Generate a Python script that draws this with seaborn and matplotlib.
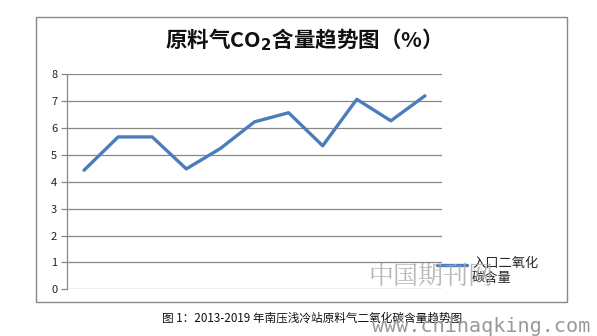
import matplotlib
matplotlib.use("Agg")
import matplotlib.pyplot as plt
import seaborn as sns
import pandas as pd
from matplotlib.patches import Rectangle

# Data
categories = [str(i) for i in range(1, 12)]
co2_values = [4.43, 5.67, 5.67, 4.48, 5.24, 6.23, 6.57, 5.34, 7.07, 6.27, 7.20]
series_name = "入口二氧化\n碳含量"
y_ticks = [0, 1, 2, 3, 4, 5, 6, 7, 8]
title_text = r"原料气CO$_\mathbf{2}$含量趋势图（%）"
caption_text = "图 1：2013-2019 年南压浅冷站原料气二氧化碳含量趋势图"

df = pd.DataFrame({"cat": categories, "val": co2_values, "series": series_name})

sns.set_theme(style="white")
plt.rcParams["font.family"] = ["Noto Sans CJK SC", "DejaVu Sans"]

fig = plt.figure(figsize=(5.97, 3.36), dpi=100)
ax = fig.add_axes([67 / 597, 1 - 289.3 / 336, (442 - 67) / 597, (289.3 - 74.3) / 336])

sns.lineplot(data=df, x="cat", y="val", hue="series", palette=["#4a7ebb"],
             linewidth=2.4, sort=False, ax=ax, legend=True)

ax.set_xlim(-0.5, 10.5)
ax.set_ylim(0, 8)
ax.set_yticks(y_ticks)
ax.set_yticklabels([str(t) for t in y_ticks], fontsize=8, color="#222222")
ax.set_xticks([])
ax.set_xlabel("")
ax.set_ylabel("")
ax.grid(axis="y", color="#888888", linewidth=0.9)
ax.set_axisbelow(True)
for s in ["top", "right", "bottom"]:
    ax.spines[s].set_visible(False)
ax.spines["left"].set_color("#888888")
ax.spines["left"].set_linewidth(0.9)
ax.tick_params(axis="y", which="both", left=True, length=4, width=0.9,
               color="#888888", pad=3)

leg = ax.legend(loc="upper left", bbox_to_anchor=(437 / 597, 1 - 254 / 336),
                bbox_transform=fig.transFigure, frameon=False, fontsize=9.5,
                handlelength=2.3, handleheight=4.0, handletextpad=0.35,
                borderpad=0, borderaxespad=0)
for t in leg.get_texts():
    t.set_linespacing(1.2)

# Outer chart border
fig.patches.append(Rectangle((36 / 597, 1 - 302 / 336), 531 / 597, 285 / 336,
                             transform=fig.transFigure, fill=False,
                             edgecolor="#888888", linewidth=1.0))

fig.text(298 / 597, 1 - 40 / 336, title_text, ha="center", va="center",
         fontsize=15.5, fontweight="bold", color="#111111")

fig.text(312 / 597, 1 - 318 / 336, caption_text, ha="center", va="center",
         fontsize=8.4, color="#111111")

# Watermarks
fig.text(431 / 597, 1 - 277 / 336, "中国期刊网", ha="center", va="center",
         fontsize=18, color="#aaaaaa", alpha=0.85, family=["Noto Serif CJK SC", "Noto Sans CJK SC"])
fig.text(481 / 597, 1 - 326 / 336, "www.chinaqking.com", ha="center", va="center",
         fontsize=14.5, color="#999999", family=["DejaVu Sans Mono"])

fig.savefig("out.png", dpi=100)
